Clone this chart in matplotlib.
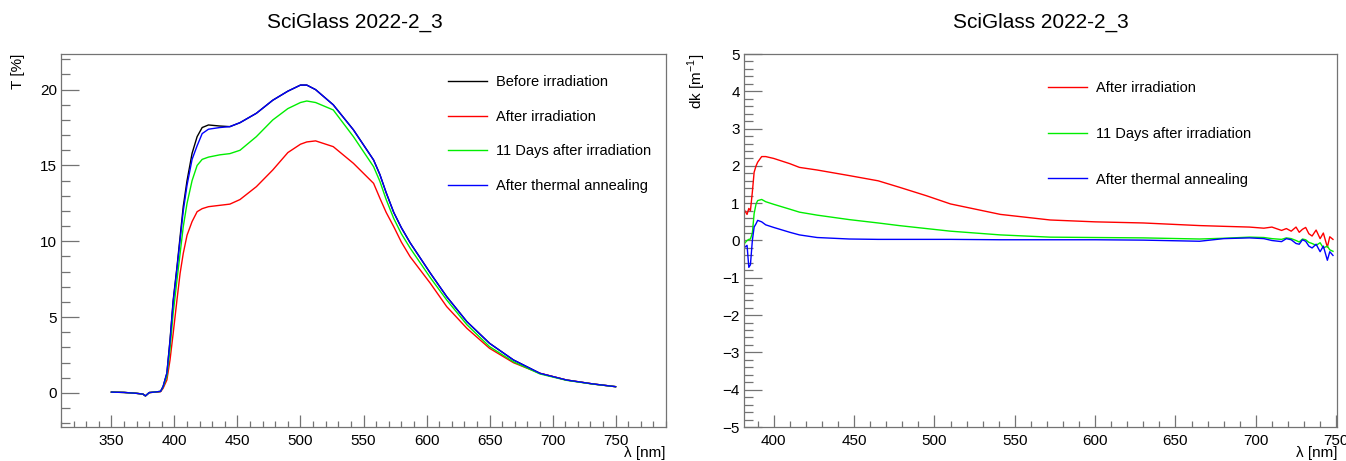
import matplotlib
matplotlib.use("Agg")
import matplotlib.pyplot as plt
from matplotlib.ticker import MultipleLocator

plt.rcParams['font.family'] = ['Liberation Sans', 'DejaVu Sans']
plt.rcParams['mathtext.fontset'] = 'custom'
plt.rcParams['mathtext.rm'] = 'Liberation Sans'

# ---- left panel: transmission T [%] ----
wl_t = [350, 360, 370, 375, 377, 380, 385, 389, 391, 394, 396.5, 399, 402, 404.5, 407, 410,
        414, 418, 422, 427, 436, 444, 452, 465, 478, 490, 500, 505, 512, 526, 542, 558, 563,
        568, 574, 580, 587, 603, 616, 632, 650, 669, 690, 711, 732, 750]
t_before = [0.05, 0.03, -0.03, -0.08, -0.2, 0.02, 0.06, 0.1, 0.42, 1.3, 3.5, 6.1, 8.3, 10.3,
            12.3, 14.0, 15.8, 16.9, 17.5, 17.67, 17.6, 17.56, 17.82, 18.44, 19.3, 19.9, 20.3,
            20.3, 20.0, 19.0, 17.35, 15.36, 14.4, 13.2, 11.9, 10.9, 9.9, 7.9, 6.35, 4.7, 3.27,
            2.17, 1.29, 0.85, 0.59, 0.41]
t_after = [0.05, 0.03, -0.03, -0.08, -0.2, 0.02, 0.05, 0.08, 0.3, 0.85, 2.17, 3.93, 6.13, 7.89,
           9.2, 10.4, 11.3, 11.95, 12.15, 12.28, 12.37, 12.45, 12.75, 13.6, 14.7, 15.85, 16.4,
           16.55, 16.62, 16.24, 15.14, 13.82, 12.84, 11.9, 10.96, 9.95, 8.98, 7.23, 5.69, 4.26,
           2.94, 1.99, 1.29, 0.85, 0.59, 0.41]
t_11days = [0.05, 0.03, -0.03, -0.08, -0.2, 0.02, 0.06, 0.1, 0.38, 1.1, 2.9, 5.25, 7.44, 9.2,
            10.96, 12.5, 14.0, 15.0, 15.4, 15.55, 15.7, 15.78, 16.0, 16.9, 18.0, 18.75, 19.15,
            19.25, 19.15, 18.66, 16.9, 14.92, 13.95, 12.75, 11.5, 10.5, 9.55, 7.6, 6.13, 4.5,
            3.05, 2.05, 1.25, 0.83, 0.58, 0.41]
t_anneal = [0.05, 0.03, -0.03, -0.08, -0.2, 0.02, 0.06, 0.1, 0.42, 1.3, 3.4, 6.0, 8.2, 10.1,
            12.0, 13.7, 15.4, 16.3, 17.1, 17.39, 17.5, 17.56, 17.82, 18.44, 19.3, 19.9, 20.3,
            20.3, 20.0, 19.0, 17.35, 15.36, 14.4, 13.2, 11.9, 10.9, 9.9, 7.9, 6.35, 4.7, 3.27,
            2.17, 1.29, 0.85, 0.59, 0.41]

# ---- right panel: dk [m^-1] ----
wl_k = [382, 383.4, 384.5, 385.5, 386.7, 387.8, 389, 390, 392.5, 395, 400, 410, 416, 427, 447,
        465, 478, 495, 510, 541, 572, 600, 630, 665, 680, 696, 705, 710, 716, 719, 722, 725, 727,
        729, 731, 733, 735, 737.5, 740, 742, 744.5, 746, 748]
dk_after = [0.8, 0.7, 0.86, 0.8, 1.3, 1.83, 2.0, 2.1, 2.25, 2.25, 2.2, 2.06, 1.96, 1.89, 1.74,
            1.6, 1.43, 1.2, 0.98, 0.70, 0.55, 0.5, 0.47, 0.40, 0.38, 0.36, 0.33, 0.36, 0.27, 0.32,
            0.25, 0.36, 0.22, 0.3, 0.35, 0.18, 0.12, 0.28, 0.05, 0.2, -0.18, 0.1, 0.03]
dk_11days = [-0.07, 0.0, 0.03, 0.04, 0.2, 0.72, 0.98, 1.07, 1.1, 1.04, 0.97, 0.84, 0.76, 0.68,
             0.56, 0.47, 0.40, 0.32, 0.25, 0.15, 0.09, 0.08, 0.07, 0.04, 0.06, 0.09, 0.08, 0.05,
             0.03, 0.07, 0.05, 0.0, -0.04, 0.04, 0.02, -0.05, -0.08, -0.13, -0.06, -0.2, -0.15,
             -0.25, -0.29]
dk_anneal = [-0.18, -0.13, -0.72, -0.65, 0.0, 0.36, 0.45, 0.54, 0.5, 0.42, 0.35, 0.22, 0.15,
             0.08, 0.04, 0.03, 0.03, 0.03, 0.03, 0.02, 0.02, 0.02, 0.01, -0.02, 0.05, 0.07, 0.05,
             0.0, -0.03, 0.05, 0.02, -0.08, -0.1, 0.02, -0.02, -0.15, -0.2, -0.1, -0.3, -0.15,
             -0.53, -0.3, -0.4]

title = "SciGlass 2022-2_3"
frame_col = '0.45'

fig = plt.figure(figsize=(13.46, 4.61), dpi=100)
W, H = 1346, 461
ax1 = fig.add_axes([61 / W, 34 / H, 605 / W, 373 / H])
ax2 = fig.add_axes([744 / W, 34 / H, 593 / W, 373 / H])


def style(ax):
    for s in ax.spines.values():
        s.set_color(frame_col)
        s.set_linewidth(0.9)
    ax.tick_params(which='both', direction='in', top=False, right=False,
                   color=frame_col, labelsize=11, width=0.9)
    ax.tick_params(axis='y', which='major', length=13, pad=3)
    ax.tick_params(axis='y', which='minor', length=6.5)
    ax.tick_params(axis='x', which='major', length=9, pad=5)
    ax.tick_params(axis='x', which='minor', length=4.5)


ax1.plot(wl_t, t_before, color='black', lw=1.0, label='Before irradiation')
ax1.plot(wl_t, t_after, color='#ff0000', lw=1.0, label='After irradiation')
ax1.plot(wl_t, t_11days, color='#00ee00', lw=1.0, label='11 Days after irradiation')
ax1.plot(wl_t, t_anneal, color='#0000ff', lw=1.0, label='After thermal annealing')
ax1.set_xlim(310, 790)
ax1.set_ylim(-2.25, 22.35)
ax1.xaxis.set_major_locator(MultipleLocator(50))
ax1.xaxis.set_minor_locator(MultipleLocator(10))
ax1.yaxis.set_major_locator(MultipleLocator(5))
ax1.yaxis.set_minor_locator(MultipleLocator(1))
ax1.set_xticks([350, 400, 450, 500, 550, 600, 650, 700, 750])
style(ax1)
ax1.legend(loc='upper left', bbox_to_anchor=(448 / W, 1 - 75 / H), bbox_transform=fig.transFigure,
           frameon=False, fontsize=10.5, handlelength=2.7, handletextpad=0.6,
           labelspacing=1.42, borderpad=0, borderaxespad=0)

ax2.plot(wl_k, dk_after, color='#ff0000', lw=1.0, label='After irradiation')
ax2.plot(wl_k, dk_11days, color='#00ee00', lw=1.0, label='11 Days after irradiation')
ax2.plot(wl_k, dk_anneal, color='#0000ff', lw=1.0, label='After thermal annealing')
ax2.set_xlim(381.5, 750.5)
ax2.set_ylim(-5, 5)
ax2.xaxis.set_major_locator(MultipleLocator(50))
ax2.xaxis.set_minor_locator(MultipleLocator(10))
ax2.yaxis.set_major_locator(MultipleLocator(1))
ax2.yaxis.set_minor_locator(MultipleLocator(0.2))
style(ax2)
ax2.legend(loc='upper left', bbox_to_anchor=(1048 / W, 1 - 81 / H), bbox_transform=fig.transFigure,
           frameon=False, fontsize=10.5, handlelength=2.7, handletextpad=0.6,
           labelspacing=2.18, borderpad=0, borderaxespad=0)

fig.text(355 / W, 1 - 22 / H, title, ha='center', va='center', fontsize=15)
fig.text(1041 / W, 1 - 22 / H, title, ha='center', va='center', fontsize=15)

fig.text(18 / W, 1 - 54 / H, "T [%]", rotation=90, ha='center', va='top', fontsize=11)
fig.text(697 / W, 1 - 54 / H, "dk [m$^{\\mathregular{-1}}$]", rotation=90, ha='center', va='top',
         fontsize=11)
fig.text(666 / W, 1 - 453 / H, "λ [nm]", ha='right', va='center', fontsize=11)
fig.text(1337 / W, 1 - 453 / H, "λ [nm]", ha='right', va='center', fontsize=11)

fig.savefig("out.png", dpi=100)
